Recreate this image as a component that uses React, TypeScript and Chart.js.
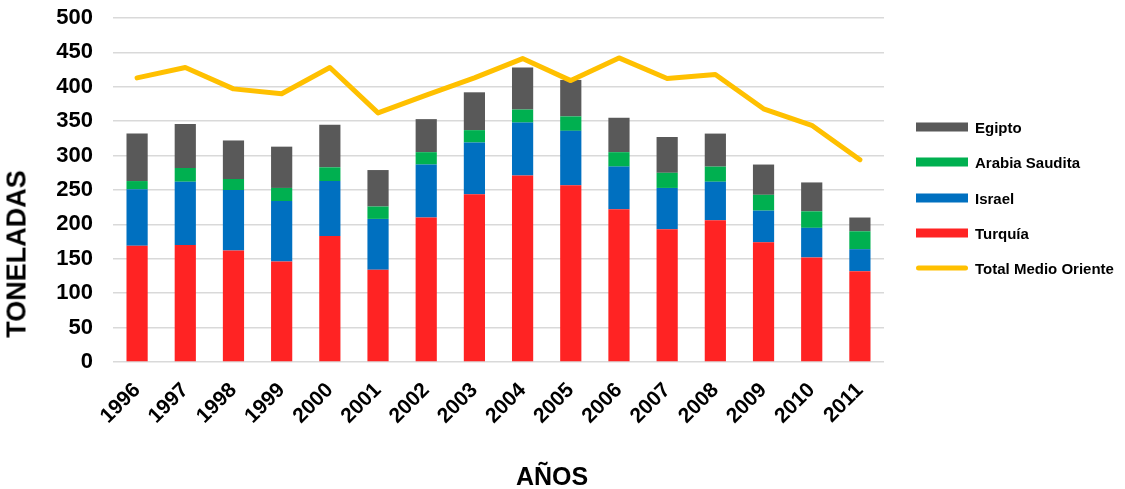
import React, { useEffect, useRef } from "react";
import { Chart, registerables } from "chart.js";

Chart.register(...registerables);

const years = ["1996","1997","1998","1999","2000","2001","2002","2003","2004","2005","2006","2007","2008","2009","2010","2011"];
const turquia = [169,170,162,146,183,134,210,244,271,257,222,193,206,174,152,132];
const israel = [82,92,88,88,80,74,77,75,77,79,62,60,56,46,43,32];
const arabia = [12,20,16,19,20,18,18,18,19,21,21,22,22,23,24,26];
const egipto = [69,64,56,60,62,53,48,55,61,53,50,52,48,44,42,20];
const totalMO = [413,428,397,390,428,362,388,413,441,409,442,412,418,368,344,294];
const yTicks = [0,50,100,150,200,250,300,350,400,450,500];

const FONT = "'Liberation Sans', Arial, sans-serif";
const C_EGIPTO = "#595959";
const C_ARABIA = "#00B050";
const C_ISRAEL = "#0070C0";
const C_TURQUIA = "#FF2323";
const C_TOTAL = "#FFC000";

const legendItems = [
  { label: "Egipto", color: C_EGIPTO, line: false },
  { label: "Arabia Saudita", color: C_ARABIA, line: false },
  { label: "Israel", color: C_ISRAEL, line: false },
  { label: "Turquía", color: C_TURQUIA, line: false },
  { label: "Total Medio Oriente", color: C_TOTAL, line: true },
];

export default function App() {
  const ref = useRef<HTMLCanvasElement | null>(null);

  useEffect(() => {
    document.body.style.margin = "0";
    const ctx = ref.current!;
    const barDs = (label: string, data: number[], color: string) => ({
      type: "bar" as const,
      label,
      data,
      backgroundColor: color,
      borderWidth: 0,
      stack: "bars",
      order: 1,
      barPercentage: 0.44,
      categoryPercentage: 1,
    });
    const chart = new Chart(ctx, {
      type: "bar",
      data: {
        labels: years,
        datasets: [
          {
            type: "line" as const,
            label: "Total Medio Oriente",
            data: totalMO,
            borderColor: C_TOTAL,
            backgroundColor: C_TOTAL,
            borderWidth: 5,
            pointRadius: 0,
            borderCapStyle: "round",
            borderJoinStyle: "round",
            tension: 0,
            stack: "total",
            order: 0,
          } as any,
          barDs("Turquía", turquia, C_TURQUIA),
          barDs("Israel", israel, C_ISRAEL),
          barDs("Arabia Saudita", arabia, C_ARABIA),
          barDs("Egipto", egipto, C_EGIPTO),
        ],
      },
      options: {
        animation: false,
        responsive: false,
        maintainAspectRatio: false,
        layout: { padding: { left: 0, right: 241, top: 18, bottom: 0 } },
        plugins: { legend: { display: false }, tooltip: { enabled: false } },
        scales: {
          x: {
            stacked: true,
            grid: { display: false },
            border: { display: false },
            ticks: {
              color: "#000",
              font: { family: FONT, size: 21, weight: "bold" },
              minRotation: 45,
              maxRotation: 45,
              padding: 8,
            },
            afterFit: (s: any) => { s.height = 127; s.paddingLeft = 0; s.paddingRight = 0; },
          },
          y: {
            stacked: true,
            min: 0,
            max: 500,
            afterBuildTicks: (s: any) => { s.ticks = yTicks.map((v) => ({ value: v })); },
            grid: { color: "#D9D9D9", lineWidth: 1.5, drawTicks: false },
            border: { display: false },
            ticks: {
              color: "#000",
              font: { family: FONT, size: 22, weight: "bold" },
              padding: 20,
            },
            afterFit: (s: any) => { s.width = 113; s.paddingTop = 0; s.paddingBottom = 0; },
          },
        },
      },
    });
    return () => chart.destroy();
  }, []);

  return (
    <div style={{ position: "absolute", left: 0, top: 0, width: 1125, height: 489, background: "#fff", fontFamily: FONT }}>
      <canvas ref={ref} width={1125} height={489} style={{ position: "absolute", left: 0, top: 0 }} />
      <div
        style={{
          position: "absolute",
          left: 17,
          top: 254,
          transform: "translate(-50%, -50%) rotate(-90deg)",
          fontSize: 27,
          fontWeight: "bold",
          whiteSpace: "nowrap",
          color: "#000",
        }}
      >
        TONELADAS
      </div>
      <div
        style={{
          position: "absolute",
          left: 552,
          top: 476,
          transform: "translate(-50%, -50%)",
          fontSize: 25,
          fontWeight: "bold",
          whiteSpace: "nowrap",
          color: "#000",
        }}
      >
        AÑOS
      </div>
      {legendItems.map((it, i) => (
        <div
          key={it.label}
          style={{ position: "absolute", left: 916, top: [127, 162, 198, 233, 268][i], transform: "translateY(-50%)", display: "flex", alignItems: "center" }}
        >
          <div
            style={{
              width: 52,
              height: it.line ? 5 : 9,
              background: it.color,
              borderRadius: it.line ? 3 : 0,
              marginRight: 7,
            }}
          />
          <span style={{ fontSize: 15, fontWeight: "bold", color: "#000", whiteSpace: "nowrap" }}>{it.label}</span>
        </div>
      ))}
    </div>
  );
}
